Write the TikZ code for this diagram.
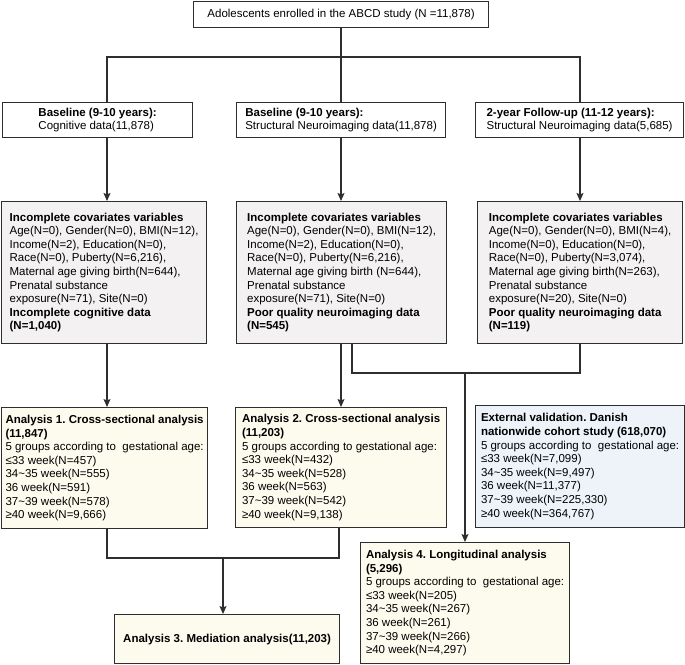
\documentclass[tikz,border=0pt]{standalone}
\usepackage{fontspec}
\setmainfont{Liberation Sans}
\usetikzlibrary{arrows.meta,positioning}
\definecolor{boxline}{HTML}{2E2E2E}
\definecolor{grayfill}{HTML}{F3F1F2}
\definecolor{creamfill}{HTML}{FDFBEE}
\definecolor{bluefill}{HTML}{EEF3FA}
\frenchspacing

\begin{document}
\begin{tikzpicture}[x=1pt,y=-1pt,
    box/.style={draw=boxline,line width=1.2pt,anchor=north west,inner sep=0pt,
        align=left,font=\fontsize{11.5}{13.6}\selectfont},
    link/.style={draw=boxline,line width=1.1pt},
    arr/.style={link,-{Stealth[length=8pt,width=7pt,inset=1.5pt]}}]
\useasboundingbox (0,0) rectangle (685,664);

            \begin{scope}[every node/.style={box}]
                \node (top) [minimum width=295pt,minimum height=26pt] at (193,1)
                    {Adolescents enrolled in the ABCD study (N =11,878)};

                \node (base1) [minimum width=190pt,minimum height=35pt] at (2,102)
                    {\textbf{Baseline (9-10 years):}\\Cognitive data(11,878)};
                \node (base2) [minimum width=209pt,minimum height=35pt] at (236,102)
                    {\textbf{Baseline (9-10 years):}\\Structural Neuroimaging data(11,878)};
                \node (base3) [minimum width=208pt,minimum height=35pt] at (475,102)
                    {\textbf{2-year Follow-up (11-12 years):}\\Structural Neuroimaging data(5,685)};
            \end{scope}

            \begin{scope}[every node/.style={box,fill=grayfill,minimum height=142pt}]
                \node (inc1) [minimum width=205pt] at (1,201)
                    {\textbf{Incomplete covariates variables}\\
                     Age(N=0), Gender(N=0), BMI(N=12),\\
                     Income(N=2), Education(N=0),\\
                     Race(N=0), Puberty(N=6,216),\\
                     Maternal age giving birth(N=644),\\
                     Prenatal substance\\
                     exposure(N=71), Site(N=0)\\
                     \textbf{Incomplete cognitive data}\\
                     \textbf{(N=1,040)}};
                \node (inc2) [minimum width=210pt] at (236,201)
                    {\textbf{Incomplete covariates variables}\\
                     Age(N=0), Gender(N=0), BMI(N=12),\\
                     Income(N=2), Education(N=0),\\
                     Race(N=0), Puberty(N=6,216),\\
                     Maternal age giving birth (N=644),\\
                     Prenatal substance\\
                     exposure(N=71), Site(N=0)\\
                     \textbf{Poor quality neuroimaging data}\\
                     \textbf{(N=545)}};
                \node (inc3) [minimum width=205pt] at (477,201)
                    {\textbf{Incomplete covariates variables}\\
                     Age(N=0), Gender(N=0), BMI(N=4),\\
                     Income(N=0), Education(N=0),\\
                     Race(N=0), Puberty(N=3,074),\\
                     Maternal age giving birth(N=263),\\
                     Prenatal substance\\
                     exposure(N=20), Site(N=0)\\
                     \textbf{Poor quality neuroimaging data}\\
                     \textbf{(N=119)}};
            \end{scope}

            \begin{scope}[every node/.style={box,fill=creamfill}]
                \node (an1) [minimum width=206pt,minimum height=121pt] at (1,407)
                    {\textbf{Analysis 1. Cross-sectional analysis}\\
                     \textbf{(11,847)}\\
                     5 groups according to~ gestational age:\\
                     ≤33 week(N=457)\\
                     34\textasciitilde35 week(N=555)\\
                     36 week(N=591)\\
                     37\textasciitilde39 week(N=578)\\
                     ≥40 week(N=9,666)};
                \node (an2) [minimum width=211pt,minimum height=120pt] at (235,407)
                    {\textbf{Analysis 2. Cross-sectional analysis}\\
                     \textbf{(11,203)}\\
                     5 groups according to gestational age:\\
                     ≤33 week(N=432)\\
                     34\textasciitilde35 week(N=528)\\
                     36 week(N=563)\\
                     37\textasciitilde39 week(N=542)\\
                     ≥40 week(N=9,138)};
                \node (an4) [minimum width=209pt,minimum height=121pt] at (360,542)
                    {\textbf{Analysis 4. Longitudinal analysis}\\
                     \textbf{(5,296)}\\
                     5 groups according to~ gestational age:\\
                     ≤33 week(N=205)\\
                     34\textasciitilde35 week(N=267)\\
                     36 week(N=261)\\
                     37\textasciitilde39 week(N=266)\\
                     ≥40 week(N=4,297)};
                \node (med) [minimum width=225pt,minimum height=49pt] at (114,614)
                    {\textbf{Analysis 3. Mediation analysis(11,203)}};
                \node (ext) [fill=bluefill,minimum width=209pt,minimum height=122pt] at (475,405)
                    {\textbf{External validation. Danish}\\
                     \textbf{nationwide cohort study (618,070)}\\
                     5 groups according to~ gestational age:\\
                     ≤33 week(N=7,099)\\
                     34\textasciitilde35 week(N=9,497)\\
                     36 week(N=11,377)\\
                     37\textasciitilde39 week(N=225,330)\\
                     ≥40 week(N=364,767)};
            \end{scope}

            \coordinate (bus) at (0,57);
            \coordinate (c1) at (107,0);
            \coordinate (c2) at (341,0);
            \coordinate (c3) at (580,0);
            \coordinate (c2b) at (352,0);
            \coordinate (c2c) at (339,0);
            \coordinate (join4) at (465,373);
            \coordinate (join3) at (223,558);

            \begin{scope}
                \path [link] (top.south -| c2) -- (bus -| c2) -- (base2.north -| c2);
                \path [link] (base1.north -| c1) -- (bus -| c1) -- (bus -| c3) -- (base3.north -| c3);
                \path [arr] (base1.south -| c1) -- (inc1.north -| c1);
                \path [arr] (base2.south -| c2) -- (inc2.north -| c2);
                \path [arr] (base3.south -| c3) -- (inc3.north -| c3);
                \path [arr] (inc1.south -| c1) -- (an1.north -| c1);
                \path [arr] (inc2.south -| c2) -- (an2.north -| c2);
                \path [link] (inc2.south -| c2b) |- (join4 -| c3) -- (inc3.south -| c3);
                \path [arr] (join4) -- (an4.north -| join4);
                \path [link] (an1.south -| c1) |- (join3 -| c2c) -- (an2.south -| c2c);
                \path [arr] (join3) -- (med.north -| join3);
            \end{scope}
\end{tikzpicture}
\end{document}
